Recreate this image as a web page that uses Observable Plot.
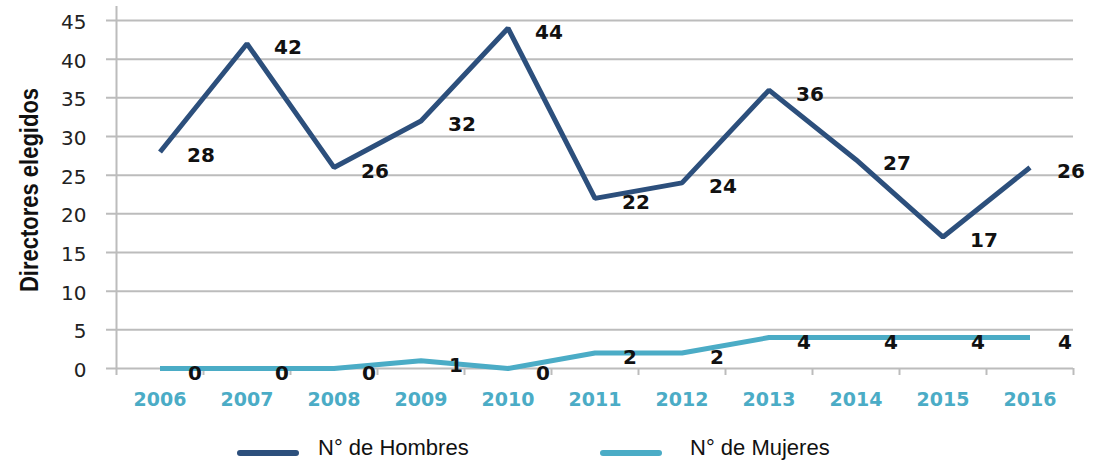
<!DOCTYPE html>
<html><head><meta charset="utf-8">
<script src="https://cdn.jsdelivr.net/npm/d3@7"></script>
<script src="https://cdn.jsdelivr.net/npm/@observablehq/plot@0.6"></script>
<style>
body{margin:0;background:#fff;}
#wrap{position:relative;width:1098px;height:463px;overflow:hidden;}
#ytitle{position:absolute;left:30px;top:190px;transform:translate(-50%,-50%) rotate(-90deg) scale(1,1.15);white-space:nowrap;font-family:"Liberation Sans";font-weight:bold;font-size:22px;color:#111;}
#legend{position:absolute;left:0;top:420px;width:1098px;height:43px;font-family:"Liberation Sans";font-size:22px;color:#111;}
.sw{position:absolute;height:6px;border-radius:3px;top:30px;width:62px;}
.lt{position:absolute;top:16px;line-height:24px;white-space:nowrap;}
</style></head>
<body>
<div id="wrap"></div>
<script>
const years = [2006, 2007, 2008, 2009, 2010, 2011, 2012, 2013, 2014, 2015, 2016];
const hombres = [28, 42, 26, 32, 44, 22, 24, 36, 27, 17, 26];
const mujeres = [0, 0, 0, 1, 0, 2, 2, 4, 4, 4, 4];
const yTicks = [0, 5, 10, 15, 20, 25, 30, 35, 40, 45];
const seriesNames = ["N° de Hombres", "N° de Mujeres"];
const seriesColors = ["#2c4f7c", "#4bacc6"];
const yTitle = "Directores elegidos";

const dataH = years.map((y, i) => ({year: y, value: hombres[i]}));
const dataM = years.map((y, i) => ({year: y, value: mujeres[i]}));
const boundaries = years.map(y => y + 0.5);
const axisStart = [years[0] - 0.5];
const grid = "#bcbcbc";

const chart = Plot.plot({
  width: 1098,
  height: 420,
  marginLeft: 116,
  marginRight: 25,
  marginTop: 20,
  marginBottom: 52,
  x: {type: "linear", domain: [years[0] - 0.5, years[years.length - 1] + 0.5], axis: null},
  y: {domain: [0, 45], axis: null},
  marks: [
    Plot.ruleY(yTicks, {y: d => d, stroke: grid, strokeWidth: 2, insetLeft: -10}),
    Plot.ruleX(axisStart, {x: d => d, y1: 45, y2: 0, stroke: grid, strokeWidth: 2, insetTop: -14, insetBottom: -7}),
    Plot.ruleX(boundaries, {x: d => d, y1: 0, y2: 0, stroke: grid, strokeWidth: 2, insetBottom: -7}),
    Plot.text(yTicks, {y: d => d, frameAnchor: "left", text: d => String(d), textAnchor: "end", dx: -30, dy: 2, fontSize: 20, fontFamily: "DejaVu Sans", fill: "#222", ariaLabel: "ytick"}),
    Plot.text(years, {x: d => d, y: 0, text: d => String(d), dy: 31, fontSize: 19, fontWeight: "bold", fontFamily: "DejaVu Sans", fill: seriesColors[1], ariaLabel: "xtick"}),
    Plot.line(dataH, {x: "year", y: "value", stroke: seriesColors[0], strokeWidth: 5, strokeLinejoin: "miter", strokeLinecap: "butt"}),
    Plot.line(dataM, {x: "year", y: "value", stroke: seriesColors[1], strokeWidth: 5, strokeLinejoin: "round", strokeLinecap: "butt"}),
    Plot.text(dataH, {x: "year", y: "value", text: d => String(d.value), textAnchor: "start", dx: 27, dy: 4, fontSize: 20, fontWeight: "bold", fontFamily: "DejaVu Sans", fill: "#111", ariaLabel: "vlabel"}),
    Plot.text(dataM, {x: "year", y: "value", text: d => String(d.value), textAnchor: "start", dx: 28, dy: 5, fontSize: 20, fontWeight: "bold", fontFamily: "DejaVu Sans", fill: "#111", ariaLabel: "vlabel"})
  ]
});

// widen glyphs horizontally around each text's anchor point
function stretch(label, s) {
  chart.querySelectorAll(`g[aria-label="${label}"] text`).forEach(el => {
    const x = +el.getAttribute("x") || 0, y = +el.getAttribute("y") || 0;
    const t = el.getAttribute("transform") || "";
    el.removeAttribute("x"); el.removeAttribute("y");
    el.setAttribute("transform", `${t} translate(${x},${y}) scale(${s},1)`);
  });
}
stretch("ytick", 1.25);
stretch("xtick", 1.1);
stretch("vlabel", 1.22);

const wrap = document.getElementById("wrap");
wrap.appendChild(chart);

const t = document.createElement("div");
t.id = "ytitle";
t.textContent = yTitle;
wrap.appendChild(t);

const legend = document.createElement("div");
legend.id = "legend";
const swLeft = [237, 600];
const txtLeft = [318, 690];
seriesNames.forEach((name, i) => {
  const s = document.createElement("div");
  s.className = "sw";
  s.style.left = swLeft[i] + "px";
  s.style.background = seriesColors[i];
  legend.appendChild(s);
  const l = document.createElement("div");
  l.className = "lt";
  l.style.left = txtLeft[i] + "px";
  l.textContent = name;
  legend.appendChild(l);
});
wrap.appendChild(legend);
</script>
</body></html>
